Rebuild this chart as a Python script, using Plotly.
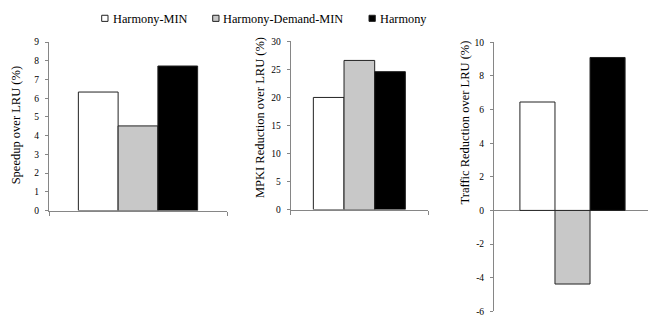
import plotly.graph_objects as go

series = ["Harmony-MIN", "Harmony-Demand-MIN", "Harmony"]
colors = ["#FFFFFF", "#C8C8C8", "#000000"]
speedup = [6.33, 4.52, 7.72]
mpki = [20.0, 26.6, 24.6]
traffic = [6.45, -4.38, 9.1]

titles = ["Speedup over LRU (%)", "MPKI Reduction over LRU (%)", "Traffic Reduction over LRU (%)"]
ranges = [[0, 9], [0, 30], [-6, 10]]
tickvals = [list(range(0, 10)), list(range(0, 31, 5)), list(range(-6, 11, 2))]
ticktexts = [[str(v) for v in tv] for tv in tickvals]
panel_values = [speedup, mpki, traffic]

OFF = 8  # page body margin
W, H = 656 - OFF, 324 - OFF
FONT = "Liberation Serif"
AXC = "#868686"


def px(x):
    return min(1.0, max(0.0, (x - OFF) / W))


def py(y):
    return min(1.0, max(0.0, (H - (y - OFF)) / H))


fig = go.Figure()
for p, vals in enumerate(panel_values):
    ax = "" if p == 0 else str(p + 1)
    for i, name in enumerate(series):
        fig.add_trace(go.Bar(
            x=[""], y=[vals[i]], name=name,
            marker=dict(color=colors[i], line=dict(color="#222222", width=1)),
            xaxis="x" + ax, yaxis="y" + ax, showlegend=False,
        ))

xdoms = [[px(49), px(227)], [px(290.7), px(428)], [px(494), px(651)]]
ydoms = [[py(212), py(38)], [py(211), py(37.3)], [py(316), py(38.3)]]

layout = dict(
    width=W, height=H,
    margin=dict(l=0, r=0, t=0, b=0),
    paper_bgcolor="white", plot_bgcolor="white",
    barmode="group", bargap=0.33, bargroupgap=0,
    font=dict(family=FONT, color="#000000"),
    showlegend=False,
)
for p in range(3):
    ax = "" if p == 0 else str(p + 1)
    layout["xaxis" + ax] = dict(
        domain=xdoms[p], anchor="y" + ax, type="category",
        showline=(p != 2), linecolor=AXC, linewidth=1,
        ticks="outside" if p != 2 else "", tickson="boundaries", ticklen=4,
        tickcolor=AXC, showticklabels=False, showgrid=False,
    )
    layout["yaxis" + ax] = dict(
        domain=ydoms[p], anchor="x" + ax, range=ranges[p],
        tickmode="array", tickvals=tickvals[p], ticktext=ticktexts[p],
        showline=True, linecolor=AXC, linewidth=1,
        ticks="outside", ticklen=3, tickcolor=AXC, ticklabelstandoff=4,
        tickfont=dict(size=9.5, family=FONT, color="#000000"),
        showgrid=False, zeroline=(p == 2), zerolinecolor=AXC, zerolinewidth=1,
    )
fig.update_layout(**layout)

# axis titles
title_pos = [(16, 124), (260, 116.5), (465, 121)]
for p, (tx, ty) in enumerate(title_pos):
    fig.add_annotation(text=titles[p], xref="paper", yref="paper",
                       x=px(tx), y=py(ty), xanchor="center", yanchor="middle",
                       textangle=-90, showarrow=False,
                       font=dict(size=12.5, family=FONT, color="#000000"))

# legend (custom: small boxes followed by text)
leg_box_x = [101.7, 212.7, 369]
leg_text_x = [110.5, 220.5, 377.5]
leg_y = 14
box = 6.3
for i, name in enumerate(series):
    fig.add_shape(type="rect", xref="paper", yref="paper",
                  x0=px(leg_box_x[i]), x1=px(leg_box_x[i] + box),
                  y0=py(leg_y + box / 2 - 0.5), y1=py(leg_y - box / 2 - 0.5),
                  fillcolor=colors[i], line=dict(color="#222222", width=1))
    fig.add_annotation(text=name, xref="paper", yref="paper",
                       x=px(leg_text_x[i]), y=py(leg_y), xanchor="left", yanchor="middle",
                       showarrow=False, font=dict(size=12.3, family=FONT, color="#000000"))

fig.write_html("out.html")
